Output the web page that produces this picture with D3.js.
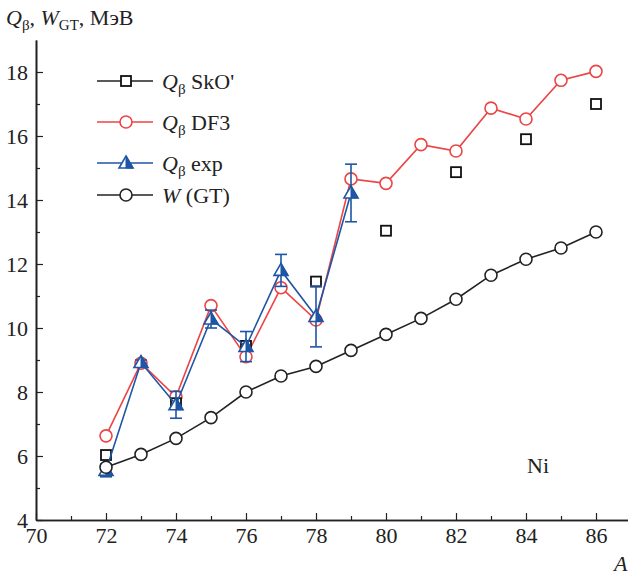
<!DOCTYPE html>
<html><head><meta charset="utf-8">
<script src="https://cdn.jsdelivr.net/npm/d3@7"></script>
<style>body{margin:0;background:#fff}svg{display:block}text{font-family:"Liberation Serif","Times New Roman",serif;fill:#222}</style>
</head><body><svg id="c" width="629" height="577"></svg>
<script>
// Data
const A_all = [72,73,74,75,76,77,78,79,80,81,82,83,84,85,86];
const W_GT = [5.65,6.05,6.55,7.2,8.0,8.5,8.8,9.3,9.8,10.3,10.9,11.65,12.15,12.5,13.0];
const Q_DF3 = [6.63,8.9,7.85,10.7,9.1,11.26,10.25,14.66,14.52,15.73,15.53,16.87,16.53,17.74,18.02];
const A_sko = [72,74,76,78,80,82,84,86];
const Q_SkO = [6.03,7.65,9.44,11.45,13.04,14.87,15.9,17.0];
const A_exp = [72,73,74,75,76,77,78,79];
const Q_exp = [5.55,8.92,7.6,10.28,9.42,11.8,10.36,14.22];
const Q_err = [0.2,0.08,0.42,0.28,0.47,0.5,0.95,0.9];
const xMajor = [70,72,74,76,78,80,82,84,86];
const xMinor = [71,73,75,77,79,81,83,85];
const yMajor = [4,6,8,10,12,14,16,18];
const yMinor = [5,7,9,11,13,15,17];

const RED = "#ec4545", BLUE = "#1f55a5", BLACK = "#222";
const svg = d3.select("#c");
const x = d3.scaleLinear().domain([70, 86.9]).range([36, 627.5]);
const y = d3.scaleLinear().domain([4, 19]).range([520, 40]);

// axes
const gx = svg.append("g").attr("transform","translate(0,520)");
gx.call(d3.axisBottom(x).tickValues(xMajor).tickSize(-7).tickSizeOuter(0).tickPadding(7).tickFormat(d3.format("d")));
gx.append("g").call(d3.axisBottom(x).tickValues(xMinor).tickSize(-4).tickSizeOuter(0).tickFormat(""));
const gy = svg.append("g").attr("transform","translate(36,0)");
gy.call(d3.axisLeft(y).tickValues(yMajor).tickSize(-7).tickSizeOuter(0).tickPadding(8).tickFormat(d3.format("d")));
gy.append("g").call(d3.axisLeft(y).tickValues(yMinor).tickSize(-4).tickSizeOuter(0).tickFormat(""));
svg.selectAll(".domain").attr("stroke",BLACK).attr("stroke-width",1.6);
svg.selectAll(".tick line").attr("stroke",BLACK).attr("stroke-width",1.2);
svg.selectAll(".tick text").style("font-size","22px").style("font-family",'"Liberation Serif",serif').attr("fill","#222");
gy.selectAll(".tick text").attr("dy","0.36em");

const line = d3.line().x(d=>x(d[0])).y(d=>y(d[1]));
const zip = (a,b)=>a.map((v,i)=>[v,b[i]]);

// red DF3
svg.append("path").datum(zip(A_all,Q_DF3)).attr("d",line).attr("fill","none").attr("stroke",RED).attr("stroke-width",1.6);
svg.append("g").selectAll("circle").data(zip(A_all,Q_DF3)).join("circle")
 .attr("cx",d=>x(d[0])).attr("cy",d=>y(d[1])).attr("r",6).attr("fill","#fff").attr("stroke",RED).attr("stroke-width",1.6);

// SkO squares
svg.append("g").selectAll("rect").data(zip(A_sko,Q_SkO)).join("rect")
 .attr("x",d=>x(d[0])-5).attr("y",d=>y(d[1])-5).attr("width",10).attr("height",10)
 .attr("fill","#fff").attr("stroke","#111").attr("stroke-width",1.8);

// exp
const expData = A_exp.map((a,i)=>({a, v:Q_exp[i], e:Q_err[i]}));
svg.append("path").datum(expData.map(d=>[d.a,d.v])).attr("d",line).attr("fill","none").attr("stroke",BLUE).attr("stroke-width",1.6);
const eb = svg.append("g").attr("stroke",BLUE).attr("stroke-width",1.6);
expData.forEach(d=>{
  const cx = x(d.a), y1 = y(d.v+d.e), y2 = y(d.v-d.e);
  eb.append("line").attr("x1",cx).attr("x2",cx).attr("y1",y1).attr("y2",y2);
  eb.append("line").attr("x1",cx-6).attr("x2",cx+6).attr("y1",y1).attr("y2",y1);
  eb.append("line").attr("x1",cx-6).attr("x2",cx+6).attr("y1",y2).attr("y2",y2);
});
function tri(g, cx, cy){
  const t = g.append("g").attr("transform",`translate(${cx},${cy})`);
  t.append("path").attr("d","M0,-7L7,5L-7,5Z").attr("fill","#fff").attr("stroke",BLUE).attr("stroke-width",1.6).attr("stroke-linejoin","miter");
  t.append("path").attr("d","M0,-7L7,5L0,5Z").attr("fill",BLUE).attr("stroke",BLUE).attr("stroke-width",1);
}
const tg = svg.append("g");
expData.forEach(d=>tri(tg, x(d.a), y(d.v)));

// W(GT)
svg.append("path").datum(zip(A_all,W_GT)).attr("d",line).attr("fill","none").attr("stroke",BLACK).attr("stroke-width",1.6);
svg.append("g").selectAll("circle").data(zip(A_all,W_GT)).join("circle")
 .attr("cx",d=>x(d[0])).attr("cy",d=>y(d[1])).attr("r",6).attr("fill","#fff").attr("stroke",BLACK).attr("stroke-width",1.6);

// legend
const leg = svg.append("g");
const rows = [
  {y:81, color:BLACK, mk:"sq", label:["Q","β"," SkO'"]},
  {y:122, color:RED, mk:"ci", label:["Q","β"," DF3"]},
  {y:163, color:BLUE, mk:"tr", label:["Q","β"," exp"]},
  {y:195, color:BLACK, mk:"ci", label:["W","",""," (GT)"]}
];
rows.forEach(r=>{
  leg.append("line").attr("x1",97).attr("x2",153).attr("y1",r.y).attr("y2",r.y).attr("stroke",r.color).attr("stroke-width",1.6);
  if(r.mk==="sq") leg.append("rect").attr("x",121).attr("y",r.y-5).attr("width",10).attr("height",10).attr("fill","#fff").attr("stroke","#111").attr("stroke-width",1.8);
  if(r.mk==="ci") leg.append("circle").attr("cx",126).attr("cy",r.y).attr("r",6).attr("fill","#fff").attr("stroke",r.color).attr("stroke-width",1.6);
  if(r.mk==="tr") tri(leg,126,r.y);
  const t = leg.append("text").attr("x",162).attr("y",r.y+8).style("font-size","22px");
  t.append("tspan").style("font-style","italic").text(r.label[0]);
  if(r.label[1]){
    t.append("tspan").style("font-size","15px").attr("dy",5).text(r.label[1]);
    t.append("tspan").attr("dy",-5).text(r.label[2]);
  } else {
    t.append("tspan").text(r.label[3]);
  }
});

// title
const tt = svg.append("text").attr("x",6).attr("y",25).style("font-size","22px");
tt.append("tspan").style("font-style","italic").text("Q");
tt.append("tspan").style("font-size","15px").attr("dy",5).text("β");
tt.append("tspan").attr("dy",-5).text(", ");
tt.append("tspan").style("font-style","italic").text("W");
tt.append("tspan").style("font-size","15px").attr("dy",5).text("GT");
tt.append("tspan").attr("dy",-5).text(", МэВ");

svg.append("text").attr("x",527).attr("y",473).style("font-size","22px").text("Ni");
svg.append("text").attr("x",614).attr("y",571).style("font-size","22px").style("font-style","italic").text("A");
</script></body></html>
